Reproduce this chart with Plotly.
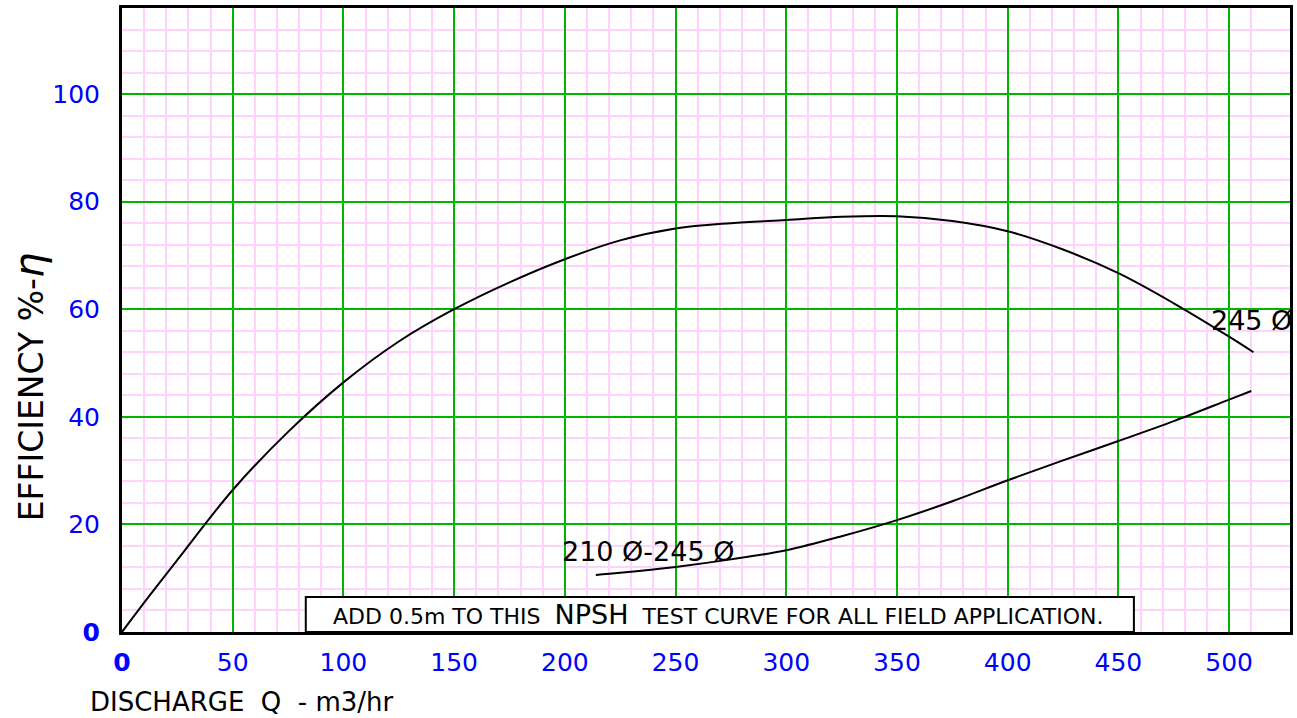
import plotly.graph_objects as go

# Efficiency curve (245 dia)
eff_q = [0, 12.5, 25, 50, 75, 100, 125, 150, 175, 200, 225, 250, 275, 300, 325, 350, 375, 400, 425, 450, 475, 500, 511]
eff_y = [0, 6.8, 13.4, 26.4, 37.2, 46.4, 54.0, 60.0, 65.0, 69.3, 72.8, 75.0, 76.0, 76.6, 77.2, 77.3, 76.4, 74.5, 71.1, 66.7, 61.1, 54.9, 52]

# NPSH curve (210-245 dia)
npsh_q = [214, 225, 250, 275, 300, 325, 350, 375, 400, 425, 450, 475, 500, 510]
npsh_y = [10.6, 11.0, 12.1, 13.5, 15.2, 17.8, 20.8, 24.3, 28.2, 31.9, 35.5, 39.2, 43.2, 44.8]

x_ticks = [0, 50, 100, 150, 200, 250, 300, 350, 400, 450, 500]
x_ticktext = ["<b>0</b>"] + [str(v) for v in x_ticks[1:]]
y_ticks = [0, 20, 40, 60, 80, 100]
y_ticktext = ["<b>0</b>"] + [str(v) for v in y_ticks[1:]]

PINK = "#ffd2ff"
GREEN = "#00b400"
BLUE = "#0000ff"
FONT = "DejaVu Sans, Verdana, sans-serif"

fig = go.Figure()
fig.add_trace(go.Scatter(x=eff_q, y=eff_y, mode="lines", line=dict(color="black", width=2, shape="spline", smoothing=1.0), showlegend=False, hoverinfo="skip"))
fig.add_trace(go.Scatter(x=npsh_q, y=npsh_y, mode="lines", line=dict(color="black", width=2, shape="spline", smoothing=1.0), showlegend=False, hoverinfo="skip"))

fig.update_layout(
    width=1297, height=718,
    margin=dict(l=122, r=4, t=8, b=86),
    paper_bgcolor="white", plot_bgcolor="white",
    font=dict(family=FONT, color="black"),
    xaxis=dict(range=[0, 527.5], tickmode="array", tickvals=x_ticks, ticktext=x_ticktext,
               showgrid=True, gridcolor=GREEN, gridwidth=2, zeroline=False,
               minor=dict(tickmode="array", tickvals=list(range(0, 520, 10)), showgrid=True, gridcolor=PINK, gridwidth=2),
               showline=True, linecolor="black", linewidth=3, mirror=True,
               ticks="", tickfont=dict(size=25, color=BLUE, family=FONT), ticklabelstandoff=6),
    yaxis=dict(range=[0, 116], tickmode="array", tickvals=y_ticks, ticktext=y_ticktext,
               showgrid=True, gridcolor=GREEN, gridwidth=2, zeroline=False,
               minor=dict(tickmode="linear", tick0=0, dtick=4, showgrid=True, gridcolor=PINK, gridwidth=2),
               showline=True, linecolor="black", linewidth=3, mirror=True,
               ticks="", tickfont=dict(size=25, color=BLUE, family=FONT), ticklabelstandoff=14),
)

# NPSH note box
fig.add_shape(type="rect", xref="x", yref="y", x0=83, x1=457, y0=0, y1=6.5,
              line=dict(color="black", width=2), fillcolor="white", layer="above")
fig.add_annotation(xref="x", yref="y", x=269, y=3.3, showarrow=False,
                   text="ADD 0.5m TO THIS  <span style='font-size:27px'>NPSH</span>  TEST CURVE FOR ALL FIELD APPLICATION.",
                   font=dict(size=22, color="black", family=FONT))

# curve labels
fig.add_annotation(xref="x", yref="y", x=491, y=58, xanchor="left", showarrow=False,
                   text="245 Ø", font=dict(size=27, color="black", family=FONT))
fig.add_annotation(xref="x", yref="y", x=198, y=14.9, xanchor="left", showarrow=False,
                   text="210 Ø-245 Ø", font=dict(size=27, color="black", family=FONT))

# axis titles
fig.add_annotation(xref="paper", yref="paper", x=-0.08, y=0.393, xanchor="center", yanchor="middle",
                   showarrow=False, textangle=-90,
                   text="EFFICIENCY %-<i><span style='font-size:40px'>η</span></i>",
                   font=dict(size=33, color="black", family=FONT))
fig.add_annotation(xref="paper", yref="paper", x=-0.029, y=-0.1122, xanchor="left", yanchor="middle", showarrow=False,
                   text="DISCHARGE  Q  - m3/hr", font=dict(size=26, color="black", family=FONT))

fig.write_html("out.html", config={"displayModeBar": False},
               post_script="document.body.style.margin='0';document.body.style.overflow='hidden';")
